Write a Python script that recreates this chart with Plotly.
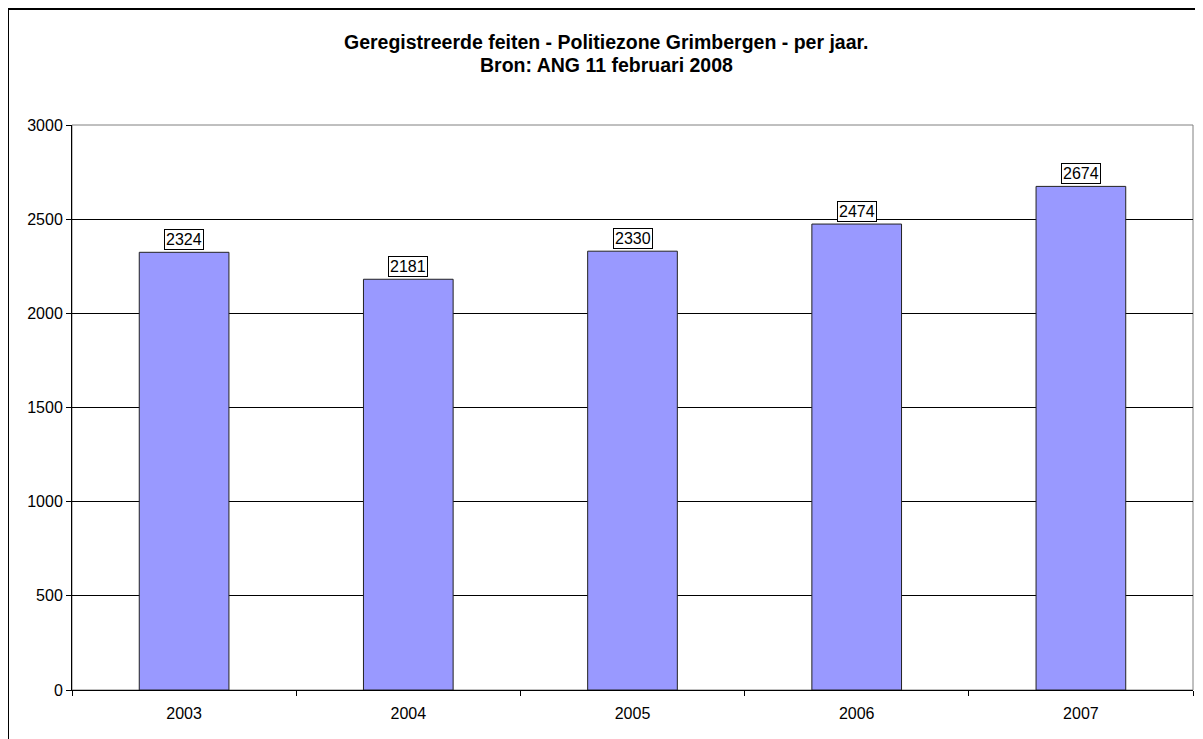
import plotly.graph_objects as go

years = ["2003", "2004", "2005", "2006", "2007"]
values = [2324, 2181, 2330, 2474, 2674]
y_ticks = [0, 500, 1000, 1500, 2000, 2500, 3000]
title_line1 = "Geregistreerde feiten - Politiezone Grimbergen - per jaar."
title_line2 = "Bron: ANG 11 februari 2008"

FONT = "Liberation Sans, Arial, sans-serif"

# page body has an 8px margin in the written html; compensate
OFF = 8
W, H = 1203 - OFF, 739 - OFF
L, R, T, B = 72 - OFF, 10, 125 - OFF, 49
PW, PH = W - L - R, H - T - B


def px_x(page_x):
    return (page_x - 72) / PW


def px_y(page_y):
    return 1 + (125 - page_y) / PH


fig = go.Figure()
fig.add_trace(go.Bar(
    x=list(range(len(years))), y=values, width=0.4,
    marker=dict(color="#9999FF", line=dict(color="#222222", width=1)),
    hovertext=years, hoverinfo="text+y",
))

for i, v in enumerate(values):
    fig.add_annotation(
        x=i, y=v, xref="x", yref="y", text=str(v), showarrow=False,
        yanchor="bottom", yshift=2,
        font=dict(family=FONT, size=16, color="black"),
        bgcolor="white", bordercolor="black", borderwidth=1, borderpad=1,
    )

# two-line bold title
for txt, yc in ((title_line1, 42), (title_line2, 65)):
    fig.add_annotation(
        x=px_x(606), y=px_y(yc), xref="paper", yref="paper",
        xanchor="center", yanchor="middle", showarrow=False,
        text="<b>" + txt + "</b>",
        font=dict(family=FONT, size=19.5, color="black"),
    )

fig.update_layout(
    width=W, height=H,
    margin=dict(l=L, r=R, t=T, b=B),
    paper_bgcolor="white", plot_bgcolor="white",
    showlegend=False,
    font=dict(family=FONT, size=16, color="black"),
)

fig.update_xaxes(
    range=[-0.5, len(years) - 0.5],
    tickvals=list(range(len(years))), ticktext=years,
    ticks="outside", ticklen=9, tickcolor="rgba(0,0,0,0)",
    showline=True, linecolor="black", linewidth=1,
    showgrid=False, zeroline=False,
    tickfont=dict(family=FONT, size=16, color="black"),
)
# boundary ticks on a hidden overlay axis
fig.add_trace(go.Scatter(x=[-0.5, len(years) - 0.5], y=[None, None], xaxis="x2",
                         showlegend=False, hoverinfo="skip"))
fig.update_layout(xaxis2=dict(
    overlaying="x", side="bottom", range=[-0.5, len(years) - 0.5],
    tickvals=[k - 0.5 for k in range(len(years) + 1)], ticks="outside", ticklen=5,
    tickcolor="black", showticklabels=False, showgrid=False, zeroline=False,
    showline=False,
))
fig.update_yaxes(
    range=[0, 3000], tickvals=y_ticks, ticks="outside", ticklen=5,
    tickcolor="black", showline=True, linecolor="black", linewidth=1,
    showgrid=True, gridcolor="black", gridwidth=1, zeroline=False,
    tickfont=dict(family=FONT, size=16, color="black"),
)

# gray plot-area border (top/right)
fig.add_shape(type="rect", xref="paper", yref="paper", x0=0, y0=0, x1=1, y1=1,
              line=dict(color="#808080", width=1), layer="below")
# outer chart frame (left and top edges visible)
fx = px_x(8)
fy = px_y(9)
fig.add_shape(type="line", xref="paper", yref="paper",
              x0=fx, x1=fx, y0=-0.2, y1=fy, line=dict(color="black", width=2))
fig.add_shape(type="line", xref="paper", yref="paper",
              x0=fx, x1=1.1, y0=fy, y1=fy, line=dict(color="black", width=2))

fig.write_html("out.html")
